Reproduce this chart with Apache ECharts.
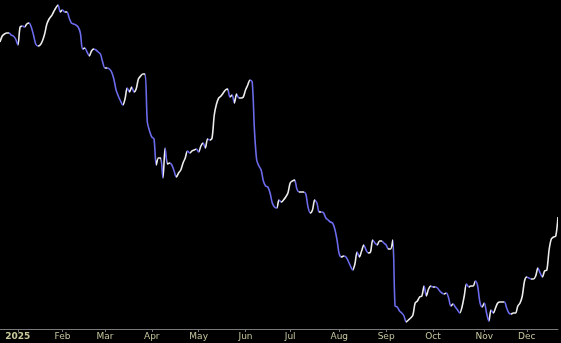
<!DOCTYPE html>
<html>
<head>
<meta charset="utf-8">
<script src="https://cdn.jsdelivr.net/npm/echarts@6/dist/echarts.min.js"></script>
<style>
html,body{margin:0;padding:0;background:#000;}
#chart{width:561px;height:343px;}
</style>
</head>
<body>
<div id="chart"></div>
<script>
// Trading-day calendar: first and last session, exchange holidays
var firstDay = '2024-12-19';
var lastDay = '2025-12-19';
var holidays = ['2024-12-25','2025-01-01','2025-01-09','2025-01-20','2025-02-17','2025-04-18',
  '2025-05-26','2025-06-19','2025-07-04','2025-09-01','2025-11-27'];
var monthNames = ['Jan','Feb','Mar','Apr','May','Jun','Jul','Aug','Sep','Oct','Nov','Dec'];

// Daily closing values (index units), one per trading day
var closes = [
287,293,295,296,296,294,293,290,284,302,303,302,305,306,302,294,285,283,284,288,
295,305,310,313,317,321,324,317,319,317,317,311,306,305,304,302,296,280,281,277,
273,278,280,279,277,275,267,261,261,260,257,250,239,233,228,224,230,241,237,242,
237,240,250,253,255,255,207,198,192,190,164,171,171,151,181,165,166,164,158,152,
156,159,166,171,178,176,178,179,180,177,183,186,181,190,189,191,214,225,231,233,
236,239,240,232,234,226,235,231,231,232,239,244,249,247,199,169,163,159,148,143,
142,136,126,122,121,129,127,129,132,136,146,148,149,140,137,137,137,135,122,116,
119,129,126,117,117,116,111,109,107,106,100,89,75,72,73,72,68,63,59,65,
77,72,78,84,79,76,77,89,86,84,88,88,86,84,80,80,89,23,22,18,
16,13,7,9,11,14,26,28,32,33,43,33,40,43,42,42,41,38,36,35,
36,31,23,25,22,19,16,22,33,45,42,43,43,48,43,27,22,26,16,8,
19,16,21,26,27,27,27,21,16,15,16,16,23,26,33,48,52,51,50,50,
53,61,56,52,58,59,79,90,92,93,112
];

var upColor = '#ececec';
var downColor = '#6b6bec';

// build trading-day category list
function iso(d){ return d.toISOString().slice(0,10); }
var dates = [];
(function(){
  var d = new Date(firstDay + 'T00:00:00Z');
  var end = new Date(lastDay + 'T00:00:00Z');
  while (d <= end) {
    var wd = d.getUTCDay();
    var s = iso(d);
    if (wd !== 0 && wd !== 6 && holidays.indexOf(s) < 0) dates.push(s);
    d = new Date(d.getTime() + 86400000);
  }
})();

function monthOf(s){ return s.slice(0,7); }
function isMonthStart(idx){
  return idx > 0 && monthOf(dates[idx]) !== monthOf(dates[idx-1]);
}

// colour sections by direction of each step
var pieces = [];
(function(){
  var start = 0;
  var dir = closes[1] >= closes[0];
  for (var i = 1; i < closes.length - 1; i++) {
    var d = closes[i+1] >= closes[i];
    if (d !== dir) {
      pieces.push({gte: start, lte: i, color: dir ? upColor : downColor});
      start = i; dir = d;
    }
  }
  pieces.push({gte: start, lte: closes.length - 1, color: dir ? upColor : downColor});
  for (var k = 1; k < pieces.length; k++) { pieces[k].gt = pieces[k].gte; delete pieces[k].gte; }
})();

var chart = echarts.init(document.getElementById('chart'), null, {renderer: 'canvas'});
chart.setOption({
  backgroundColor: '#000000',
  animation: false,
  grid: {left: 0, right: 3, top: 0, bottom: 14, containLabel: false},
  xAxis: {
    type: 'category',
    data: dates,
    boundaryGap: false,
    axisLine: {show: true, lineStyle: {color: '#7a7a7a', width: 1}},
    axisTick: {show: true, length: 3, lineStyle: {color: '#7a7a7a'},
      interval: function(i){ return isMonthStart(i); }},
    axisLabel: {
      show: true,
      margin: 3,
      hideOverlap: false,
      interval: function(i){ return isMonthStart(i); },
      fontFamily: 'DejaVu Sans',
      fontSize: 9,
      color: '#c4c49c',
      formatter: function(v){
        var m = parseInt(v.slice(5,7), 10) - 1;
        if (m === 0) return '{yr|' + v.slice(0,4) + '}';
        return monthNames[m];
      },
      rich: {yr: {fontWeight: 'bold', fontFamily: 'DejaVu Sans', fontSize: 9, color: '#c8c89a'}}
    },
    splitLine: {show: false}
  },
  yAxis: {
    type: 'value',
    min: 0,
    max: 329,
    show: false,
    splitLine: {show: false}
  },
  visualMap: {
    show: false,
    dimension: 0,
    seriesIndex: 0,
    pieces: pieces
  },
  series: [{
    type: 'line',
    data: closes,
    smooth: 0.3,
    symbol: 'none',
    lineStyle: {width: 1.6}
  }]
});
</script>
</body>
</html>
